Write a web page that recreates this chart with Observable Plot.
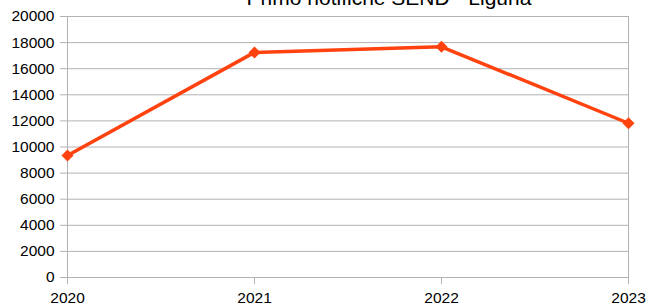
<!DOCTYPE html>
<html>
<head>
<meta charset="utf-8">
<script src="https://cdn.jsdelivr.net/npm/d3@7"></script>
<script src="https://cdn.jsdelivr.net/npm/@observablehq/plot@0.6"></script>
<style>
  html, body { margin: 0; padding: 0; background: #fff; }
  #chart { width: 648px; height: 307px; overflow: hidden; }
</style>
</head>
<body>
<div id="chart"></div>
<script>
const title = "Primo notifiche SEND - Liguria";
const years = [2020, 2021, 2022, 2023];
const values = [9350, 17250, 17680, 11820];
const yTicks = [0, 2000, 4000, 6000, 8000, 10000, 12000, 14000, 16000, 18000, 20000];

const data = years.map((year, i) => ({year, value: values[i]}));
const lineColor = "#ff420e";
const gridColor = "#b3b3b3";

const chart = Plot.plot({
  width: 648,
  height: 307,
  marginLeft: 67,
  marginRight: 20,
  marginTop: 16,
  marginBottom: 30,
  style: {fontFamily: "'Liberation Sans', Arial, sans-serif", background: "#fff", color: "#000"},
  x: {type: "linear", domain: [2020, 2023], label: null},
  y: {domain: [0, 20000], label: null},
  marks: [
    Plot.gridY(yTicks, {stroke: gridColor, strokeOpacity: 1, insetLeft: -7}),
    Plot.ruleX([2020, 2023], {stroke: gridColor, strokeOpacity: 1, insetBottom: -7}),
    Plot.axisY(yTicks, {tickSize: 0, tickPadding: 13, fontSize: 15.5, fill: "#000", label: null, tickFormat: d => String(d)}),
    Plot.axisX(years, {tickSize: 7, tickPadding: 7, stroke: gridColor, strokeOpacity: 1, fontSize: 15.5, fill: "#000", label: null, tickFormat: d => String(d)}),
    Plot.line(data, {x: "year", y: "value", stroke: lineColor, strokeWidth: 3.5}),
    Plot.dot(data, {x: "year", y: "value", symbol: "diamond2", r: 5.4, fill: lineColor, stroke: "none"}),
    Plot.text([title], {frameAnchor: "top", dx: 41, dy: -12, lineAnchor: "bottom", fontSize: 21, fill: "#000"})
  ]
});
document.getElementById("chart").appendChild(chart);
</script>
</body>
</html>
